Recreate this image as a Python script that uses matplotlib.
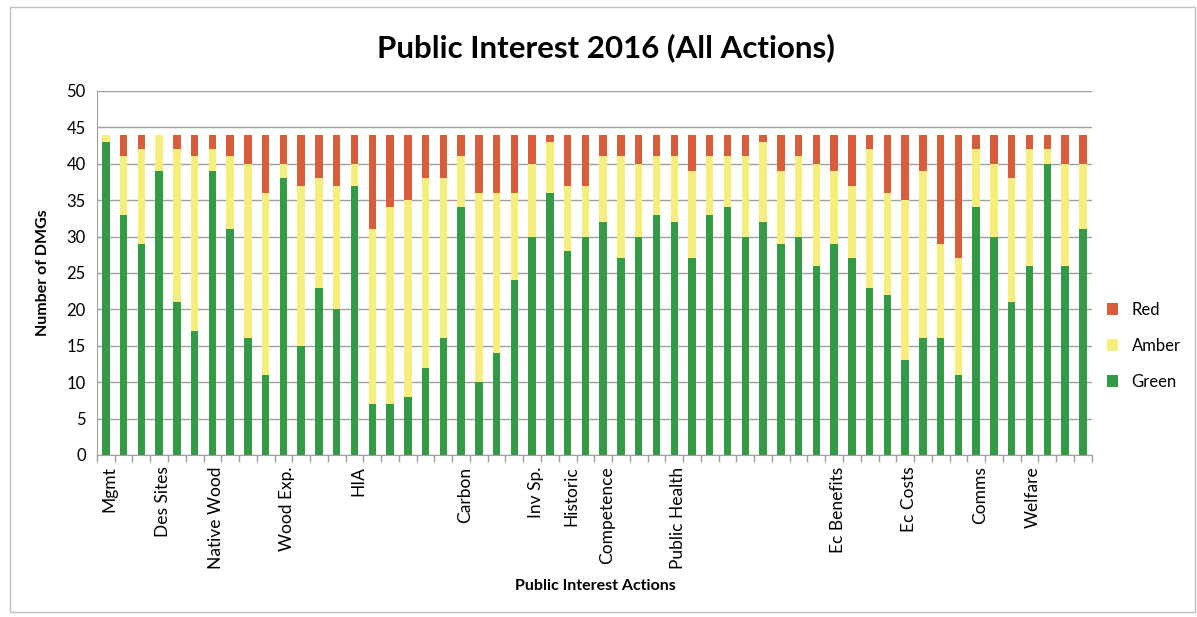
import numpy as np
import matplotlib.pyplot as plt
from matplotlib.patches import Rectangle

plt.rcParams['font.family'] = ['Lato', 'DejaVu Sans']

green = [43, 33, 29, 39, 21, 17, 39, 31, 16, 11, 38, 15, 23, 20,
         37, 7, 7, 8, 12, 16, 34, 10, 14, 24, 30, 36, 28, 30,
         32, 27, 30, 33, 32, 27, 33, 34, 30, 32, 29, 30, 26, 29,
         27, 23, 22, 13, 16, 16, 11, 34, 30, 21, 26, 40, 26, 31]
amber = [1, 8, 13, 5, 21, 24, 3, 10, 24, 25, 2, 22, 15, 17,
         3, 24, 27, 27, 26, 22, 7, 26, 22, 12, 10, 7, 9, 7,
         9, 14, 10, 8, 9, 12, 8, 7, 11, 11, 10, 11, 14, 10,
         10, 19, 14, 22, 23, 13, 16, 8, 10, 17, 16, 2, 14, 9]
red = [0, 3, 2, 0, 2, 3, 2, 3, 4, 8, 4, 7, 6, 7,
       4, 13, 10, 9, 6, 6, 3, 8, 8, 8, 4, 1, 7, 7,
       3, 3, 4, 3, 3, 5, 3, 3, 3, 1, 5, 3, 4, 5,
       7, 2, 8, 9, 5, 15, 17, 2, 4, 6, 2, 2, 4, 4]

labels = {0: "Mgmt", 3: "Des Sites", 6: "Native Wood", 10: "Wood Exp.",
          14: "HIA", 20: "Carbon", 24: "Inv Sp.", 26: "Historic",
          28: "Competence", 32: "Public Health", 41: "Ec Benefits",
          45: "Ec Costs", 49: "Comms", 52: "Welfare"}

c_green = "#339a46"
c_amber = "#f5ee7d"
c_red = "#d75d3b"

fig = plt.figure(figsize=(11.97, 6.17), dpi=100)
ax = fig.add_axes([0.081, 0.2626, 0.831, 0.59])

x = np.arange(len(green))
g = np.array(green)
a = np.array(amber)
r = np.array(red)
w = 0.42
ax.bar(x, g, w, color=c_green, label="Green", zorder=3)
ax.bar(x, a, w, bottom=g, color=c_amber, label="Amber", zorder=3)
ax.bar(x, r, w, bottom=g + a, color=c_red, label="Red", zorder=3)

ax.set_xlim(-0.5, len(green) - 0.5)
ax.set_ylim(0, 50)
ax.set_yticks(range(0, 51, 5))
ax.yaxis.grid(True, color="#a0a0a0", linewidth=1, zorder=0)
ax.tick_params(axis="y", length=0, labelsize=12, pad=8)

ax.set_xticks(np.arange(-0.5, len(green), 1))
ax.set_xticklabels([])
ax.tick_params(axis="x", length=5, color="#a0a0a0", width=1)
for i, t in labels.items():
    ax.text(i + 0.2, -1.6, t, rotation=90, ha="center", va="top", fontsize=12.5)

for s in ["top", "right"]:
    ax.spines[s].set_visible(False)
for s in ["left", "bottom"]:
    ax.spines[s].set_color("#a0a0a0")

ax.set_ylabel("Number of DMGs", fontsize=11.5, fontweight="bold", labelpad=12)
fig.text(0.497, 0.05, "Public Interest Actions", ha="center", va="center",
         fontsize=11.5, fontweight="bold")
fig.text(0.506, 0.923, "Public Interest 2016 (All Actions)", ha="center",
         va="center", fontsize=22.5, fontweight="bold")

h, l = ax.get_legend_handles_labels()
fig.legend(h[::-1], l[::-1], loc="center left", bbox_to_anchor=(0.912, 0.44),
           frameon=False, fontsize=12, handlelength=0.7, handleheight=0.7,
           labelspacing=1.2)

fig.patches.append(Rectangle((0.008, 0.008), 0.99, 0.98, transform=fig.transFigure,
                             fill=False, edgecolor="#c0c0c0", linewidth=1))

fig.savefig("out.png", dpi=100)
